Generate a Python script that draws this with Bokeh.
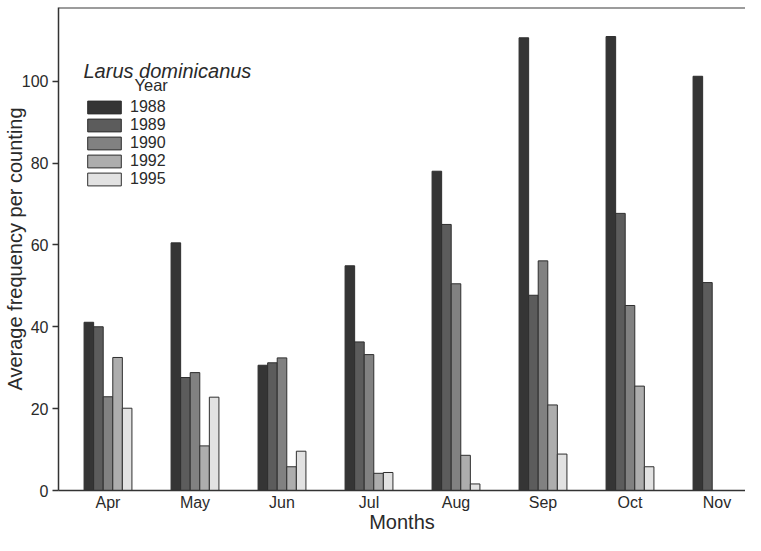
from bokeh.plotting import figure
from bokeh.models import (ColumnDataSource, Legend, LegendItem, Label, Span,
                          FixedTicker)
from bokeh.embed import file_html
from bokeh.resources import INLINE

months = ["Apr", "May", "Jun", "Jul", "Aug", "Sep", "Oct", "Nov"]
years = ["1988", "1989", "1990", "1992", "1995"]
y1988 = [41.1, 60.5, 30.6, 54.9, 78.0, 110.6, 110.9, 101.2]
y1989 = [40.0, 27.6, 31.2, 36.3, 65.0, 47.7, 67.7, 50.8]
y1990 = [22.9, 28.8, 32.4, 33.2, 50.5, 56.1, 45.2, None]
y1992 = [32.5, 10.9, 5.8, 4.2, 8.6, 20.9, 25.5, None]
y1995 = [20.1, 22.8, 9.6, 4.4, 1.6, 8.9, 5.8, None]
y_ticks = [0, 20, 40, 60, 80, 100]

series = [y1988, y1989, y1990, y1992, y1995]
colors = ["#353535", "#5c5c5c", "#818181", "#adadad", "#e2e2e2"]

FONT = "Liberation Sans"
TXT = "#2a2a2a"
bar_w = 0.110

W, H = 745, 535
L, T, BB = 58, 7, 45          # borders (left, top, bottom)
B = H - BB                    # frame bottom in px
Y_TOP = 118
px_x = 87.0
px_y = (B - T) / Y_TOP
x0 = (L - 107.5) / px_x
x1 = (W - 107.5) / px_x


def dx(px):
    return (px - 107.5) / px_x


def dy(py):
    return (B - py) / px_y


p = figure(width=W, height=H, output_backend="svg", toolbar_location=None,
           x_range=(x0, x1), y_range=(0, Y_TOP),
           min_border_left=L, min_border_right=0, min_border_top=T,
           min_border_bottom=BB)
p.outline_line_color = None
p.xgrid.visible = False
p.ygrid.visible = False
p.background_fill_color = "white"
p.border_fill_color = "white"

items = []
for k, (yr, vals, col) in enumerate(zip(years, series, colors)):
    xs, tops = [], []
    for i, v in enumerate(vals):
        if v is not None:
            xs.append(i + (k - 2) * bar_w)
            tops.append(v)
    src = ColumnDataSource(dict(x=xs, top=tops))
    r = p.vbar(x="x", top="top", bottom=0, width=bar_w, source=src,
               fill_color=col, line_color="#2e2e2e", line_width=1)
    items.append(LegendItem(label=yr, renderers=[r]))

legend = Legend(items=items, location=(25, B - 188), orientation="vertical",
                glyph_width=42, glyph_height=16, label_height=16, spacing=0,
                padding=0, margin=0, label_standoff=5,
                label_text_font=FONT, label_text_font_size="16px",
                label_text_color=TXT, border_line_color=None,
                background_fill_alpha=0)
p.add_layout(legend, "center")

p.add_layout(Label(x=dx(83), y=dy(70), text="Larus dominicanus",
                   text_font=FONT, text_font_size="20px",
                   text_font_style="italic", text_color=TXT,
                   text_baseline="alphabetic"))
p.add_layout(Label(x=dx(134), y=dy(84), text="Year", text_font=FONT,
                   text_font_size="16.5px", text_color=TXT,
                   text_baseline="alphabetic"))

p.add_layout(Span(location=Y_TOP, dimension="width", line_color="#3a3a3a",
                  line_width=2))

p.xaxis.ticker = FixedTicker(ticks=list(range(len(months))))
p.xaxis.major_label_overrides = {i: m for i, m in enumerate(months)}
p.xaxis.major_tick_line_color = None
p.xaxis.major_tick_out = 0
p.xaxis.major_tick_in = 0
p.xaxis.minor_tick_line_color = None
p.xaxis.axis_line_color = "#333333"
p.xaxis.axis_line_width = 1.5
p.xaxis.major_label_standoff = 3
p.xaxis.axis_label = "Months"
p.xaxis.axis_label_standoff = -3

p.yaxis.ticker = FixedTicker(ticks=y_ticks)
p.yaxis.major_tick_out = 6
p.yaxis.major_tick_in = 0
p.yaxis.minor_tick_line_color = None
p.yaxis.axis_line_color = "#333333"
p.yaxis.axis_line_width = 1.5
p.yaxis.major_tick_line_color = "#333333"
p.yaxis.major_tick_line_width = 1.5
p.yaxis.major_label_standoff = 4
p.yaxis.axis_label = "Average frequency per counting"
p.yaxis.axis_label_standoff = -7

for ax in (p.xaxis, p.yaxis):
    ax.major_label_text_font = FONT
    ax.major_label_text_font_size = "16px"
    ax.major_label_text_color = TXT
    ax.axis_label_text_font = FONT
    ax.axis_label_text_font_size = "20px"
    ax.axis_label_text_font_style = "normal"
    ax.axis_label_text_color = TXT

open("out.html", "w").write(file_html(p, INLINE))
